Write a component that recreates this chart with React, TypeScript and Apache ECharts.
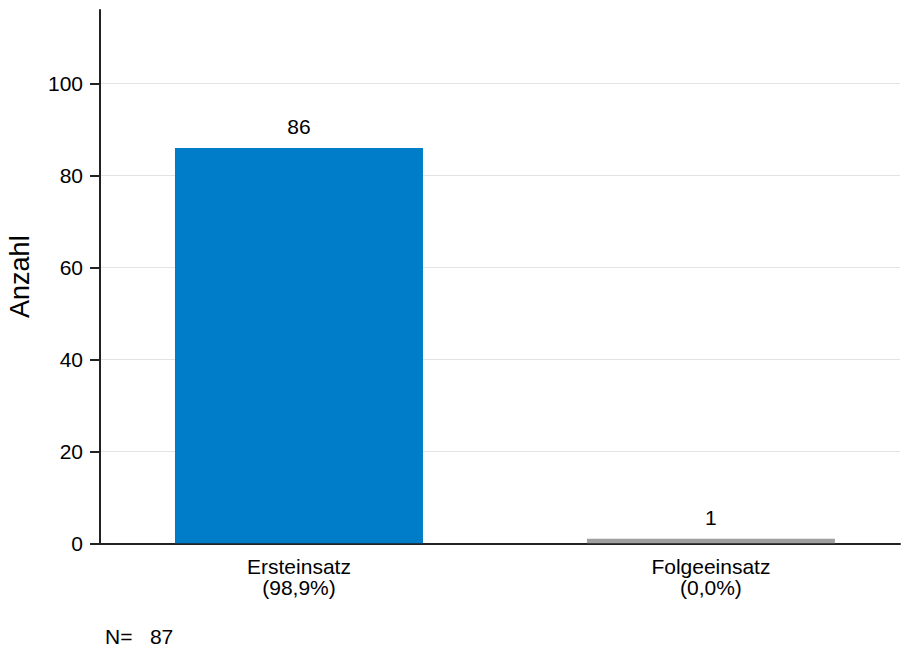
import React, { useEffect, useRef } from "react";
import * as echarts from "echarts";

const categories = ["Ersteinsatz", "Folgeeinsatz"];
const percentLabels = ["(98,9%)", "(0,0%)"];
const counts = [86, 1];
const barColors = ["#007DC8", "#A0A0A0"];
const yTicks = [0, 20, 40, 60, 80, 100];
const totalN = 87;

const FONT = "'Liberation Sans', Arial, sans-serif";

export default function App() {
  const ref = useRef<HTMLDivElement>(null);
  useEffect(() => {
    if (!ref.current) return;
    const chart = echarts.init(ref.current, null, { renderer: "svg" });
    const positions = categories.map((_, i) => i);
    chart.setOption({
      animation: false,
      textStyle: { fontFamily: FONT },
      grid: { left: 100, right: 1, top: 10, bottom: 106.7, containLabel: false, outerBoundsMode: "none" },
      xAxis: {
        type: "value",
        min: -0.483,
        max: 1.459,
        axisLine: { show: true, onZero: false, lineStyle: { color: "#222", width: 2 } },
        axisTick: { show: false },
        splitLine: { show: false },
        axisLabel: {
          customValues: positions,
          color: "#000",
          fontSize: 21,
          fontFamily: FONT,
          margin: 13,
          lineHeight: 21,
          formatter: (v: number) => {
            const i = Math.round(v);
            return categories[i] + "\n" + percentLabels[i];
          },
        },
      },
      yAxis: {
        type: "value",
        min: 0,
        max: 116,
        interval: 20,
        name: "Anzahl",
        nameLocation: "middle",
        nameGap: 67,
        nameRotate: 90,
        nameTextStyle: { fontSize: 27, color: "#000", fontFamily: FONT },
        axisLine: { show: true, onZero: false, lineStyle: { color: "#222", width: 2 } },
        axisTick: { show: true, length: 10, customValues: yTicks, lineStyle: { color: "#222", width: 2 } },
        axisLabel: { customValues: yTicks, color: "#000", fontSize: 21, fontFamily: FONT, margin: 17 },
        splitLine: { show: true, lineStyle: { color: "#E3E3E3", width: 1 } },
      },
      series: [
        {
          type: "bar",
          barWidth: 248,
          data: counts.map((c, i) => ({
            value: [positions[i], c],
            itemStyle: { color: barColors[i] },
          })),
          label: {
            show: true,
            position: "top",
            distance: 11,
            color: "#000",
            fontSize: 21,
            fontFamily: FONT,
            formatter: (p: any) => String(p.value[1]),
          },
        },
      ],
      graphic: [
        {
          type: "text",
          left: 105,
          top: 626,
          style: { text: "N=   " + totalN, fontSize: 21, fill: "#000", fontFamily: FONT },
        },
      ],
    });
    return () => chart.dispose();
  }, []);
  return <div ref={ref} style={{ width: 901, height: 650, position: "absolute", left: 0, top: 0 }} />;
}
